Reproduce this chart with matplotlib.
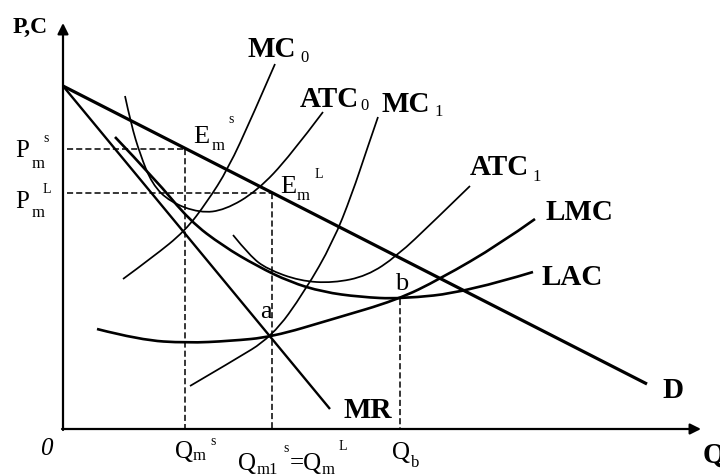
import matplotlib
matplotlib.use("Agg")
import matplotlib.pyplot as plt
from matplotlib.path import Path
from matplotlib.patches import PathPatch

# ---- curve data (quantity Q, price/cost P) ----
D_Q = [0, 584]
D_P = [343, 45]

MR_Q = [0, 267]
MR_P = [343, 20]

MC0_Q = [60, 90, 122, 144, 165, 189, 212]
MC0_P = [150, 172, 198, 227, 260, 312, 365]

ATC0_Q = [62, 68, 77, 89, 107, 137, 162, 194, 227, 260]
ATC0_P = [333, 305, 275, 245, 227, 216, 219, 238, 273, 317]

MC1_Q = [127, 168, 209, 242, 270, 289, 304, 315]
MC1_P = [43, 67, 92, 138, 187, 235, 280, 312]

ATC1_Q = [170, 187, 204, 237, 270, 304, 334, 370, 407]
ATC1_P = [194, 173, 160, 148, 146, 153, 173, 207, 243]

LAC_Q = [52, 92, 127, 160, 194, 227, 260, 297, 337, 404, 470]
LAC_P = [292, 250, 208, 183, 163, 147, 137, 132, 130, 137, 157]

LMC_Q = [34, 77, 124, 167, 209, 270, 334, 377, 437, 472]
LMC_P = [100, 89, 86, 88, 92, 110, 129, 150, 185, 210]

# equilibrium points
Q_MS, P_MS = 122, 280   # short-run monopoly output / price
Q_ML, P_ML = 209, 236   # long-run monopoly output / price
Q_B, P_B = 337, 130     # minimum of LAC

SERIF = "Liberation Serif"
THIN = 1.25
THICK = 1.9


def smooth_curve(q, p, lw):
    """Quadratic B-spline path through the given control points."""
    pts = list(zip(q, p))
    n = len(pts)
    verts = [pts[0]]
    codes = [Path.MOVETO]
    for i in range(1, n - 2):
        mid = ((pts[i][0] + pts[i + 1][0]) / 2, (pts[i][1] + pts[i + 1][1]) / 2)
        verts += [pts[i], mid]
        codes += [Path.CURVE3, Path.CURVE3]
    verts += [pts[n - 2], pts[n - 1]]
    codes += [Path.CURVE3, Path.CURVE3]
    return PathPatch(Path(verts, codes), facecolor="none", edgecolor="black",
                     lw=lw, capstyle="butt", joinstyle="round")


def label(x, y, s, size, weight="normal", style="normal"):
    ax.text(x, y, s, fontsize=size, fontweight=weight, fontstyle=style,
            family=SERIF, ha="left", va="baseline", color="black")


fig = plt.figure(figsize=(7.2, 4.77), dpi=100)
ax = fig.add_axes([0, 0, 1, 1])
ax.set_xlim(-63, 657)
ax.set_ylim(-47, 430)
ax.axis("off")

# axes with arrows
ax.annotate("", xy=(0, 406), xytext=(0, -1),
            arrowprops=dict(arrowstyle="-|>", lw=1.6, color="black",
                            mutation_scale=16, shrinkA=0, shrinkB=0))
ax.annotate("", xy=(638, 0), xytext=(-1, 0),
            arrowprops=dict(arrowstyle="-|>", lw=1.6, color="black",
                            mutation_scale=16, shrinkA=0, shrinkB=0))

# straight lines: demand and marginal revenue
ax.plot(D_Q, D_P, color="black", lw=2.3, solid_capstyle="butt")
ax.plot(MR_Q, MR_P, color="black", lw=1.7, solid_capstyle="butt")

# cost curves
ax.add_patch(smooth_curve(MC0_Q, MC0_P, THIN))
ax.add_patch(smooth_curve(ATC0_Q, ATC0_P, THIN))
ax.add_patch(smooth_curve(MC1_Q, MC1_P, THIN))
ax.add_patch(smooth_curve(ATC1_Q, ATC1_P, THIN))
ax.add_patch(smooth_curve(LAC_Q, LAC_P, THICK))
ax.add_patch(smooth_curve(LMC_Q, LMC_P, THICK))

# dashed guide lines
dash = dict(color="black", lw=1.1, linestyle=(0, (4, 2)))
ax.plot([4, Q_MS], [P_MS, P_MS], **dash)
ax.plot([Q_MS, Q_MS], [P_MS, 0], **dash)
ax.plot([4, Q_ML], [P_ML, P_ML], **dash)
ax.plot([Q_ML, Q_ML], [P_ML, 0], **dash)
ax.plot([Q_B, Q_B], [P_B, 0], **dash)

# curve names
label(185, 373, "MC", 21, "bold")
label(237, 368, "0", 12)
label(237, 323, "ATC", 21, "bold")
label(297, 320, "0", 12)
label(319, 318, "MC", 21, "bold")
label(371, 314, "1", 12)
label(407, 255, "ATC", 21, "bold")
label(469, 249, "1", 12)
label(482, 210, "LMC", 21, "bold")
label(479, 145, "LAC", 21, "bold")
label(599, 32, "D", 21, "bold")
label(280, 12, "MR", 21, "bold")
label(-50, 397, "P,C", 17, "bold")
label(640, -33, "Q", 21, "bold")
label(-23, -25, "0", 18, style="italic")

# price labels
label(-48, 273, "P", 18)
label(-31, 262, "m", 12)
label(-20, 288, "s", 10)
label(-48, 222, "P", 18)
label(-31, 213, "m", 12)
label(-20, 237, "L", 10)

# equilibrium labels
label(130, 287, "E", 19)
label(149, 280, "m", 12)
label(165, 307, "s", 10)
label(217, 237, "E", 19)
label(234, 230, "m", 12)
label(252, 252, "L", 10)
label(197, 112, "a", 19)
label(332, 140, "b", 19)

# quantity labels
label(112, -28, "Q", 18)
label(130, -30, "m", 12)
label(147, -15, "s", 10)
label(175, -40, "Q", 18)
label(194, -44, "m1", 12)
label(220, -22, "s", 10)
label(227, -40, "=Q", 18)
label(259, -44, "m", 12)
label(276, -20, "L", 10)
label(329, -29, "Q", 18)
label(348, -37, "b", 12)

fig.savefig("out.png", dpi=100, facecolor="white")
